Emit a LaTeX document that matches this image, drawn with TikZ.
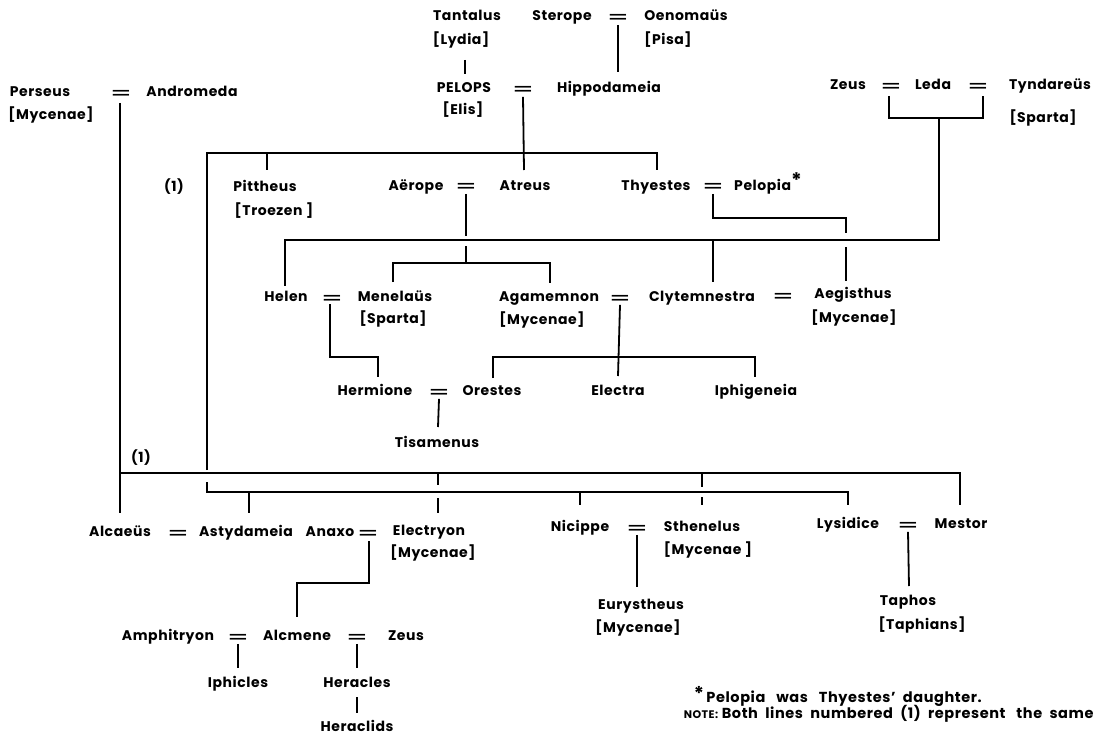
\documentclass[tikz,border=0pt]{standalone}
\usepackage{fontspec}
\setmainfont{Poppins}[LetterSpace=4]
\newfontfamily\eqfont{DejaVu Sans}
\newcommand\nm{\fontsize{14}{16}\selectfont\bfseries}
\newcommand\fn{\fontsize{14.5}{16}\selectfont\bfseries}
\newcommand\eqsz{\eqfont\fontsize{20}{20}\selectfont}
\newcommand\eqsign{\scalebox{1.3}[1]{=}}
\begin{document}
\begin{tikzpicture}[x=1pt,y=-1pt,
  line width=1.8pt,
  pn/.style={font=\nm, inner sep=0pt, anchor=base},
  eq/.style={font=\eqsz, inner sep=0pt, anchor=base},
  note/.style={font=\fn, inner sep=0pt, anchor=base west}]
\fill[white] (0,0) rectangle (1103,741);
\useasboundingbox (0,0) rectangle (1103,741);

% ---- top generation
\node[pn] (tantalus) at (467,21) {Tantalus};
\node[pn] (lydia) at (461,45) {[Lydia]};
\node[pn] (sterope) at (562,21) {Sterope};
\node[eq] (eqSO) at (618,24) {\eqsign};
\node[pn] (oenomaus) at (686,21) {Oenomaüs};
\node[pn] (pisa) at (668,45) {[Pisa]};
\node[pn] (pelops) at (464,93) {PELOPS};
\node[pn] (elis) at (463,115) {[Elis]};
\node[eq] (eqPH) at (523,96) {\eqsign};
\node[pn] (hippodameia) at (609,93) {Hippodameia};

\node[pn] (perseus) at (40,97) {Perseus};
\node[pn] (mycenaeP) at (51,120) {[Mycenae]};
\node[eq] (eqPA) at (121,100) {\eqsign};
\node[pn] (andromeda) at (192,97) {Andromeda};

\node[pn] (zeus) at (848,90) {Zeus};
\node[eq] (eqZL) at (891,93) {\eqsign};
\node[pn] (leda) at (933,90) {Leda};
\node[eq] (eqLT) at (978,93) {\eqsign};
\node[pn] (tyndareus) at (1050,90) {Tyndareüs};
\node[pn] (spartaT) at (1043,123) {[Sparta]};

% ---- second generation
\node[pn] (one1) at (174,191) {(1)};
\node[pn] (pittheus) at (265,191) {Pittheus};
\node[pn] (troezen) at (274,215) {[Troezen ]};
\node[pn] (aerope) at (416,190) {Aërope};
\node[eq] (eqAA) at (466,193) {\eqsign};
\node[pn] (atreus) at (525,190) {Atreus};
\node[pn] (thyestes) at (656,190) {Thyestes};
\node[eq] (eqTP) at (713,193) {\eqsign};
\node[pn] (pelopia) at (768,190) {Pelopia\raisebox{3pt}{\fontsize{20}{20}\selectfont *}};

% ---- third generation
\node[pn] (helen) at (286,301) {Helen};
\node[eq] (eqHM) at (332,304) {\eqsign};
\node[pn] (menelaus) at (395,301) {Menelaüs};
\node[pn] (spartaM) at (393,323) {[Sparta]};
\node[pn] (agamemnon) at (549,301) {Agamemnon};
\node[pn] (mycenaeAg) at (542,324) {[Mycenae]};
\node[eq] (eqAC) at (620,304) {\eqsign};
\node[pn] (clytemnestra) at (702,301) {Clytemnestra};
\node[eq] (eqCA) at (783,302) {\eqsign};
\node[pn] (aegisthus) at (853,298) {Aegisthus};
\node[pn] (mycenaeAe) at (854,322) {[Mycenae]};

\node[pn] (hermione) at (375,395) {Hermione};
\node[eq] (eqHO) at (439,398) {\eqsign};
\node[pn] (orestes) at (492,395) {Orestes};
\node[pn] (electra) at (618,395) {Electra};
\node[pn] (iphigeneia) at (756,395) {Iphigeneia};
\node[pn] (tisamenus) at (437,447) {Tisamenus};

% ---- Perseid branch
\node[pn] (one2) at (141,462) {(1)};
\node[pn] (alcaeus) at (120,536) {Alcaeüs};
\node[eq] (eqAlA) at (178,539) {\eqsign};
\node[pn] (astydameia) at (246,536) {Astydameia};
\node[pn] (anaxo) at (330,536) {Anaxo};
\node[eq] (eqAE) at (368,539) {\eqsign};
\node[pn] (electryon) at (429,535) {Electryon};
\node[pn] (mycenaeEl) at (433,557) {[Mycenae]};
\node[pn] (nicippe) at (580,531) {Nicippe};
\node[eq] (eqNS) at (637,534) {\eqsign};
\node[pn] (sthenelus) at (702,531) {Sthenelus};
\node[pn] (mycenaeSt) at (708,554) {[Mycenae ]};
\node[pn] (lysidice) at (848,528) {Lysidice};
\node[eq] (eqLM) at (908,531) {\eqsign};
\node[pn] (mestor) at (961,528) {Mestor};
\node[pn] (eurystheus) at (641,609) {Eurystheus};
\node[pn] (mycenaeEu) at (638,632) {[Mycenae]};
\node[pn] (taphos) at (908,605) {Taphos};
\node[pn] (taphians) at (922,629) {[Taphians]};

\node[pn] (amphitryon) at (168,640) {Amphitryon};
\node[eq] (eqAmA) at (238,643) {\eqsign};
\node[pn] (alcmene) at (297,640) {Alcmene};
\node[eq] (eqAZ) at (357,643) {\eqsign};
\node[pn] (zeusB) at (406,640) {Zeus};
\node[pn] (iphicles) at (238,687) {Iphicles};
\node[pn] (heracles) at (357,687) {Heracles};
\node[pn] (heraclids) at (357,731) {Heraclids};

% ---- footnotes
\node[note] (note1) at (693,702) {\raisebox{2pt}{\fontsize{19}{19}\selectfont *}\,Pelopia\ \ \ was\ \ \ Thyestes'\ \ daughter.};
\node[note] (note2) at (683,718) {{\fontsize{11}{12}\selectfont NOTE:}\ Both\ \ lines\ \ numbered\ \ (1)\ \ represent\ \ \ the\ \ same};

% ---- connectors
% Tantalus -> Pelops
\draw (465,60) -- (465,74);
% Sterope = Oenomaus -> Hippodameia
\draw (eqSO.south) -- (618,72);
% Pelops = Hippodameia -> children
\draw (eqPH.south) -- (524,170);
\draw (207,470) -- (207,153) -- (657,153) -- (657,170);
\draw (267,153) -- (267,170);
% Aerope = Atreus
\draw (eqAA.south) -- (466,236);
\draw (466,246) -- (466,263);
\draw (393,282) -- (393,263) -- (550,263) -- (550,283);
% Thyestes = Pelopia -> Aegisthus
\draw (eqTP.south) -- (713,218) -- (846,218) -- (846,233);
\draw (846,247) -- (846,281);
% Zeus = Leda = Tyndareus
\draw (889,96) -- (889,118) -- (983,118) -- (983,96);
\draw (939,118) -- (939,240) -- (285,240) -- (285,286);
\draw (713,240) -- (713,282);
% Helen = Menelaus -> Hermione
\draw (330,304) -- (330,357) -- (378,357) -- (378,377);
% Agamemnon = Clytemnestra
\draw (eqAC.south) -- (618,376);
\draw (493,378) -- (493,357) -- (755,357) -- (755,377);
% Hermione = Orestes
\draw (eqHO.south) -- (438,427);
% Perseus = Andromeda
\draw (120,103) -- (120,513);
\draw (120,473) -- (960,473) -- (960,505);
\draw (438,473) -- (438,485);
\draw (438,498) -- (438,513);
\draw (702,473) -- (702,487);
\draw (702,497) -- (702,505);
% line (1) continued
\draw (207,482) -- (207,492) -- (848,492) -- (848,505);
\draw (249,492) -- (249,513);
\draw (580,492) -- (580,505);
% Anaxo = Electryon -> Alcmene
\draw (369,541) -- (369,583) -- (297,583) -- (297,617);
% Nicippe = Sthenelus -> Eurystheus
\draw (eqNS.south) -- (637,587);
% Lysidice = Mestor -> Taphos
\draw (eqLM.south) -- (909,586);
% Amphitryon = Alcmene -> Iphicles
\draw (eqAmA.south) -- (238,668);
% Alcmene = Zeus -> Heracles
\draw (eqAZ.south) -- (357,668);
\draw (357,697) -- (357,713);
\end{tikzpicture}
\end{document}
